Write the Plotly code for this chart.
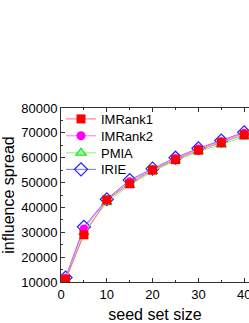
import plotly.graph_objects as go

seed_sizes = [1, 5, 10, 15, 20, 25, 30, 35, 40]
imrank1 = [11000, 29000, 43000, 49500, 55000, 59200, 63000, 66000, 69200]
imrank2 = [11500, 31300, 43000, 50300, 55300, 59700, 63500, 66500, 69800]
pmia = [10500, 30000, 42000, 49000, 54500, 58800, 62500, 65300, 68500]
irie = [11800, 32200, 43300, 51000, 55600, 60000, 63800, 66900, 70200]

x_ticks = [0, 10, 20, 30, 40]
y_ticks = [10000, 20000, 30000, 40000, 50000, 60000, 70000, 80000]

FONT = "Arial, Liberation Sans, sans-serif"

fig = go.Figure()
# drawn back-to-front so IMRank1 is on top; each in its own legend box
fig.add_trace(go.Scatter(x=seed_sizes, y=irie, name="IRIE", mode="lines+markers",
                         legend="legend4",
                         line=dict(color="#7070ff", width=1),
                         marker=dict(symbol="diamond-open", size=10, color="#2020ff", line=dict(width=1.2))))
fig.add_trace(go.Scatter(x=seed_sizes, y=pmia, name="PMIA", mode="lines+markers",
                         legend="legend3",
                         line=dict(color="#70ff70", width=1),
                         marker=dict(symbol="triangle-up", size=9, color="#a0ffa0",
                                     line=dict(color="#20e020", width=1.2))))
fig.add_trace(go.Scatter(x=seed_sizes, y=imrank2, name="IMRank2", mode="lines+markers",
                         legend="legend2",
                         line=dict(color="#ff70ff", width=1),
                         marker=dict(symbol="circle", size=9, color="#ff00ff")))
fig.add_trace(go.Scatter(x=seed_sizes, y=imrank1, name="IMRank1", mode="lines+markers",
                         legend="legend",
                         line=dict(color="#ff7070", width=1),
                         marker=dict(symbol="square", size=9, color="#ff0000")))

legend_style = dict(x=0.0, xanchor="left", yanchor="middle",
                    bgcolor="rgba(0,0,0,0)", font=dict(size=13), itemwidth=30)

fig.update_layout(
    width=249, height=323,
    margin=dict(l=61, r=0, t=108, b=41, autoexpand=False),
    paper_bgcolor="white", plot_bgcolor="white",
    font=dict(family=FONT, size=13, color="black"),
    showlegend=True,
    legend=dict(y=0.937, **legend_style),
    legend2=dict(y=0.840, **legend_style),
    legend3=dict(y=0.742, **legend_style),
    legend4=dict(y=0.647, **legend_style),
    xaxis=dict(range=[0, 41.05], tickvals=x_ticks, ticks="inside", ticklen=4,
               tickcolor="#333", showline=True, linecolor="#333", linewidth=1,
               mirror="ticks", showgrid=False, zeroline=False, automargin=False,
               ticklabeloverflow="allow",
               minor=dict(dtick=5, ticks="inside", ticklen=2, tickcolor="#333"),
               title=dict(text="seed set size", standoff=9),
               tickfont=dict(size=13)),
    yaxis=dict(range=[10000, 80000], tickvals=y_ticks, tickformat="d",
               ticks="inside", ticklen=4, tickcolor="#333",
               showline=True, linecolor="#333", linewidth=1,
               showgrid=False, zeroline=False, automargin=False,
               ticklabeloverflow="allow",
               minor=dict(dtick=5000, ticks="inside", ticklen=2, tickcolor="#333"),
               title=dict(text="influence spread", standoff=4),
               tickfont=dict(size=13)),
)

fig.write_html("out.html", config={"displayModeBar": False},
               post_script="document.body.style.margin='0';document.body.style.overflow='hidden';")
